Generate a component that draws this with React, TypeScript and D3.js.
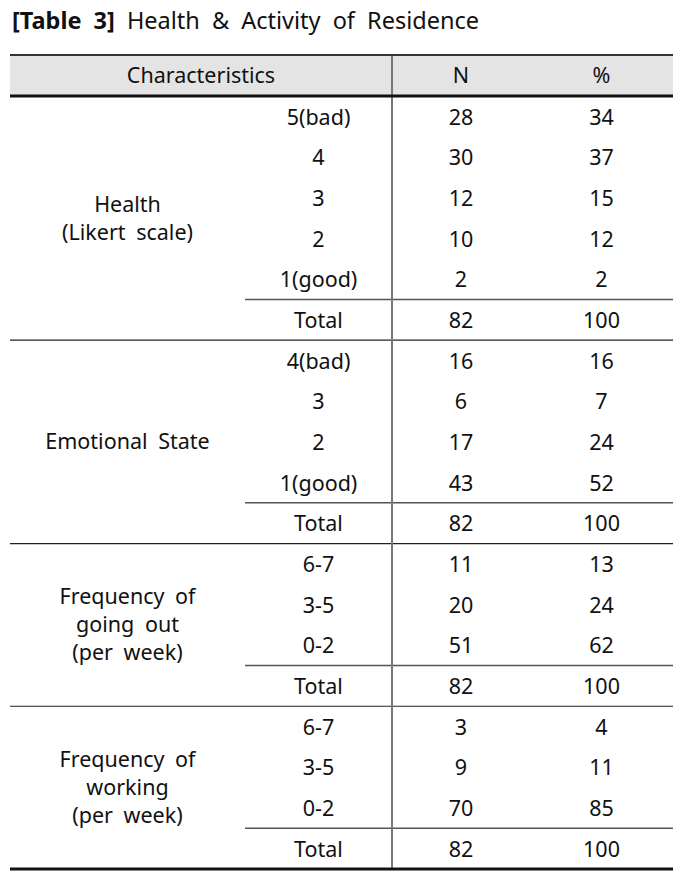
import React from 'react';
import * as d3 from 'd3';

const title = 'Health & Activity of Residence';
const headers = ['Characteristics', 'N', '%'];

const groups = ['Health\n(Likert scale)', 'Emotional State', 'Frequency of\ngoing out\n(per week)', 'Frequency of\nworking\n(per week)'];
const levels = [
  ['5(bad)', '4', '3', '2', '1(good)', 'Total'],
  ['4(bad)', '3', '2', '1(good)', 'Total'],
  ['6-7', '3-5', '0-2', 'Total'],
  ['6-7', '3-5', '0-2', 'Total'],
];
const counts = [
  [28, 30, 12, 10, 2, 82],
  [16, 6, 17, 43, 82],
  [11, 20, 51, 82],
  [3, 9, 70, 82],
];
const percents = [
  [34, 37, 15, 12, 2, 100],
  [16, 7, 24, 52, 100],
  [13, 24, 62, 100],
  [4, 11, 85, 100],
];

const FONT = "'Noto Sans', sans-serif";

export default function App() {
  const width = 693;
  const height = 875;
  const left = 10, right = 673, sub = 245, div = 392, nRight = 530;
  const top = 55, headBottom = 96;
  const nRows = d3.sum(levels, (l) => l.length);
  const y = d3.scaleLinear().domain([0, nRows]).range([headBottom, 869]);

  let start = 0;
  const sections = levels.map((l, i) => {
    const s = { i, start, len: l.length };
    start += l.length;
    return s;
  });

  const textStyle = { fontFamily: FONT, fontSize: 21.5, fill: '#111', wordSpacing: 5 } as any;

  return (
    <svg width={width} height={height} style={{ position: 'absolute', left: 0, top: 0 }}>
      <text x={12} y={29} style={{ ...textStyle, fontSize: 23.5, wordSpacing: 6 }}>
        <tspan fontWeight="bold">[Table 3]</tspan> {title}
      </text>
      <rect x={left} y={top} width={right - left} height={headBottom - top} fill="#e4e4e4" />
      <text x={(left + div) / 2} y={(top + headBottom) / 2} dy="0.35em" textAnchor="middle" style={textStyle}>{headers[0]}</text>
      <text x={(div + nRight) / 2} y={(top + headBottom) / 2} dy="0.35em" textAnchor="middle" style={textStyle}>{headers[1]}</text>
      <text x={(nRight + right) / 2} y={(top + headBottom) / 2} dy="0.35em" textAnchor="middle" style={textStyle}>{headers[2]}</text>

      {sections.map((s) => {
        const lines = groups[s.i].split('\n');
        const cy = (y(s.start) + y(s.start + s.len)) / 2;
        return (
          <g key={s.i}>
            <text x={(left + sub) / 2} y={cy} textAnchor="middle" style={textStyle}>
              {lines.map((t, k) => (
                <tspan key={k} x={(left + sub) / 2} y={cy + (k - (lines.length - 1) / 2) * 28} dy="0.35em">{t}</tspan>
              ))}
            </text>
            {levels[s.i].map((lab, j) => {
              const ry = (y(s.start + j) + y(s.start + j + 1)) / 2;
              return (
                <g key={j}>
                  <text x={(sub + div) / 2} y={ry} dy="0.38em" textAnchor="middle" style={textStyle}>{lab}</text>
                  <text x={(div + nRight) / 2} y={ry} dy="0.38em" textAnchor="middle" style={textStyle}>{counts[s.i][j]}</text>
                  <text x={(nRight + right) / 2} y={ry} dy="0.38em" textAnchor="middle" style={textStyle}>{percents[s.i][j]}</text>
                </g>
              );
            })}
            <line x1={sub} x2={right} y1={y(s.start + s.len - 1)} y2={y(s.start + s.len - 1)} stroke="#555" strokeWidth={1.5} />
            {s.i < sections.length - 1 && (
              <line x1={left} x2={right} y1={y(s.start + s.len)} y2={y(s.start + s.len)} stroke="#222" strokeWidth={1.2} />
            )}
          </g>
        );
      })}

      <line x1={div} x2={div} y1={top} y2={y(nRows)} stroke="#777" strokeWidth={2} />
      <line x1={left} x2={right} y1={top} y2={top} stroke="#333" strokeWidth={2} />
      <line x1={left} x2={right} y1={headBottom} y2={headBottom} stroke="#111" strokeWidth={3} />
      <line x1={left} x2={right} y1={y(nRows)} y2={y(nRows)} stroke="#111" strokeWidth={3} />
    </svg>
  );
}
